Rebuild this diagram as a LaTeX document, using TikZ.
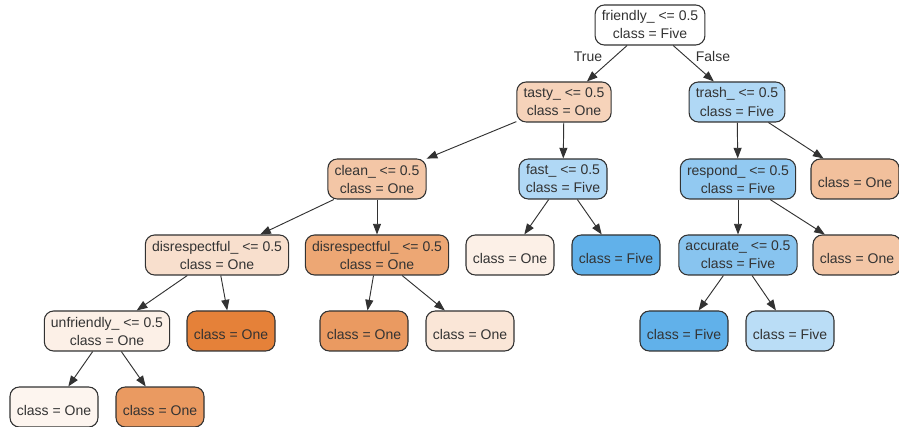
\documentclass[tikz,border=0pt]{standalone}
\usepackage{fontspec}
\setmainfont{Liberation Sans}
\usetikzlibrary{arrows.meta}

\definecolor{one}{RGB}{229,129,57}
\definecolor{five}{RGB}{57,157,229}
\definecolor{edge}{RGB}{50,50,50}

\tikzset{
    treebox/.style={
        draw=edge,
        line width=0.8pt,
        rounded corners=7pt,
        align=center,
        minimum width=66pt,
        minimum height=30pt,
        inner xsep=5pt,
        font=\fontsize{10.5}{13.5}\selectfont,
        text=black!80,
    },
    arrow/.style={
        draw=edge,
        line width=0.7pt,
        -{Triangle[length=8pt,width=6pt]},
    },
}

\begin{document}
\begin{tikzpicture}[x=0.75pt,y=-0.75pt]

    \useasboundingbox (0,0) rectangle (899,427);

    % level 0
    \node [treebox, fill=white] (friendly) at (650,25) {friendly\_ <= 0.5\\class = Five};

    % level 1
    \node [treebox, fill=one!35] (tasty) at (564,102) {tasty\_ <= 0.5\\class = One};
    \node [treebox, fill=five!40] (trash) at (737,102) {trash\_ <= 0.5\\class = Five};

    % level 2
    \node [treebox, fill=one!45] (clean) at (377,179) {clean\_ <= 0.5\\class = One};
    \node [treebox, fill=five!40] (fast) at (563,179) {fast\_ <= 0.5\\class = Five};
    \node [treebox, fill=five!55] (respond) at (738,179) {respond\_ <= 0.5\\class = Five};
    \node [treebox, fill=one!50] (trashR) at (855,179) {\mbox{}\\class = One};

    % level 3
    \node [treebox, fill=one!25] (disL) at (217,255) {disrespectful\_ <= 0.5\\class = One};
    \node [treebox, fill=one!70] (disR) at (377,255) {disrespectful\_ <= 0.5\\class = One};
    \node [treebox, fill=one!12] (fastL) at (510,255) {\mbox{}\\class = One};
    \node [treebox, fill=five!80] (fastR) at (616,255) {\mbox{}\\class = Five};
    \node [treebox, fill=five!60] (accurate) at (738,255) {accurate\_ <= 0.5\\class = Five};
    \node [treebox, fill=one!45] (respR) at (857,255) {\mbox{}\\class = One};

    % level 4
    \node [treebox, fill=one!12] (unfriendly) at (107,331) {unfriendly\_ <= 0.5\\class = One};
    \node [treebox, fill=one] (disLR) at (231,331) {\mbox{}\\class = One};
    \node [treebox, fill=one!80] (disRL) at (364,331) {\mbox{}\\class = One};
    \node [treebox, fill=one!20] (disRR) at (470,331) {\mbox{}\\class = One};
    \node [treebox, fill=five!80] (accL) at (684,331) {\mbox{}\\class = Five};
    \node [treebox, fill=five!35] (accR) at (790,331) {\mbox{}\\class = Five};

    % level 5
    \node [treebox, fill=one!8] (unfL) at (54,407) {\mbox{}\\class = One};
    \node [treebox, fill=one!80] (unfR) at (160,407) {\mbox{}\\class = One};

    % edge labels
    \node [font=\fontsize{10.5}{13.5}\selectfont, text=black!80] (true) at (588,57) {True};
    \node [font=\fontsize{10.5}{13.5}\selectfont, text=black!80] (false) at (713,57) {False};

    % edges
    \draw [arrow] (friendly) -- (tasty);
    \draw [arrow] (friendly) -- (trash);
    \draw [arrow] (tasty) -- (clean);
    \draw [arrow] (tasty) -- (fast);
    \draw [arrow] (trash) -- (respond);
    \draw [arrow] (trash) -- (trashR);
    \draw [arrow] (clean) -- (disL);
    \draw [arrow] (clean) -- (disR);
    \draw [arrow] (fast) -- (fastL);
    \draw [arrow] (fast) -- (fastR);
    \draw [arrow] (respond) -- (accurate);
    \draw [arrow] (respond) -- (respR);
    \draw [arrow] (disL) -- (unfriendly);
    \draw [arrow] (disL) -- (disLR);
    \draw [arrow] (disR) -- (disRL);
    \draw [arrow] (disR) -- (disRR);
    \draw [arrow] (accurate) -- (accL);
    \draw [arrow] (accurate) -- (accR);
    \draw [arrow] (unfriendly) -- (unfL);
    \draw [arrow] (unfriendly) -- (unfR);

\end{tikzpicture}
\end{document}
